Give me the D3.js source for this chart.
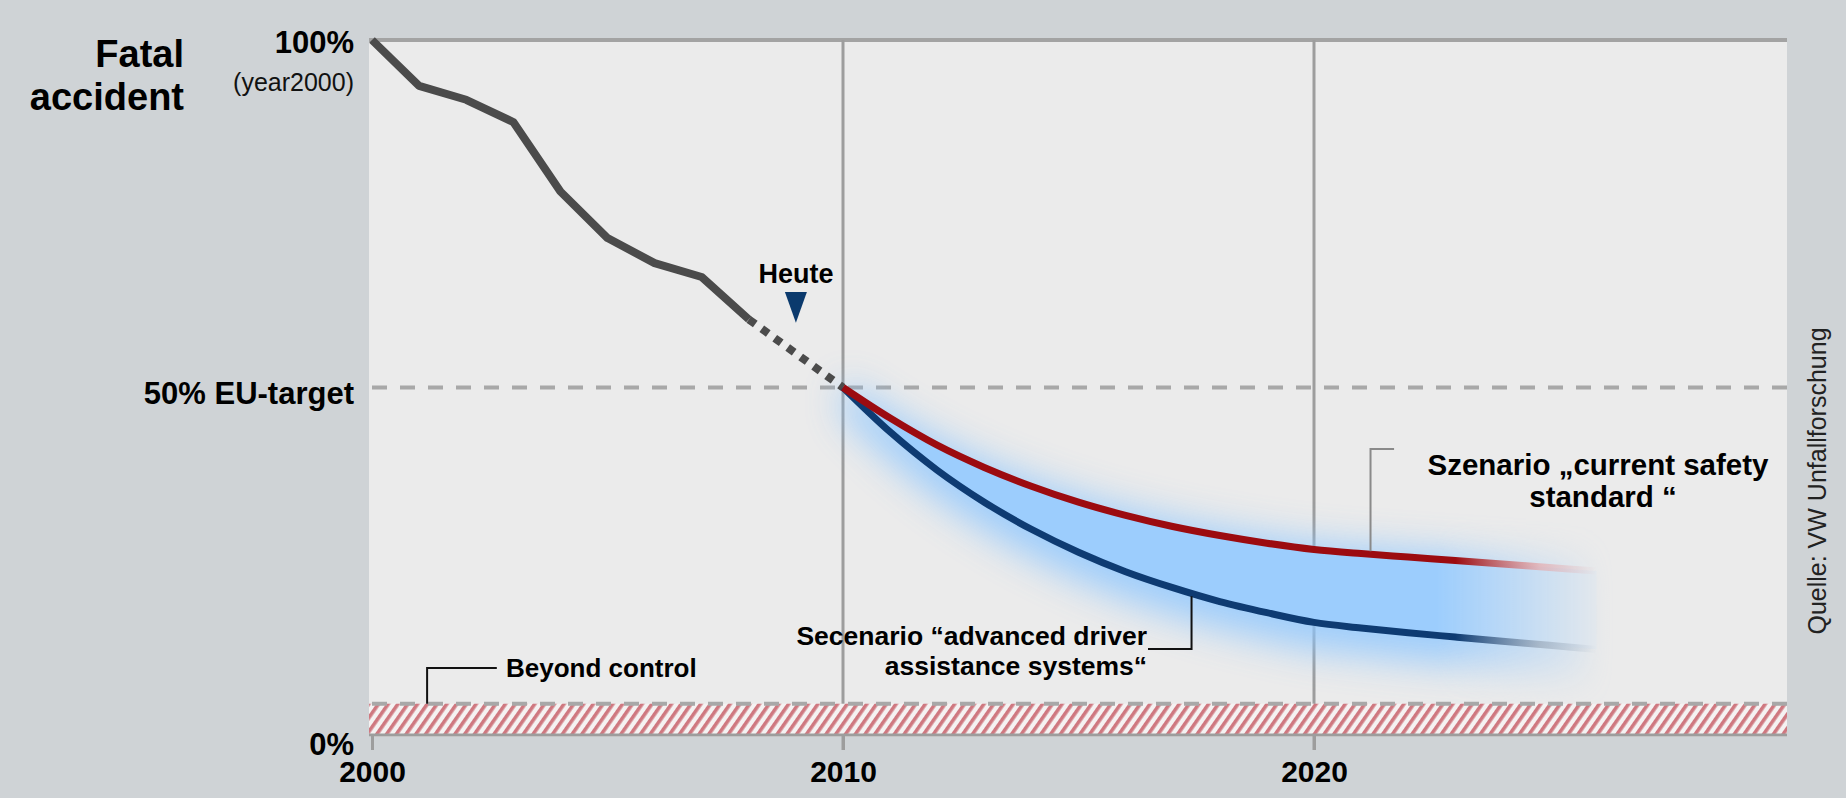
<!DOCTYPE html>
<html>
<head>
<meta charset="utf-8">
<script src="https://cdn.jsdelivr.net/npm/d3@7"></script>
<style>
    html, body { margin: 0; padding: 0; background: #cfd3d6; }
    svg { display: block; font-family: "Liberation Sans", Arial, Helvetica, sans-serif; }
</style>
</head>
<body>
<svg width="1846" height="798"></svg>
<script>
// fatal accidents, year 2000 = 100 %
let history_years = [2000, 2001, 2002, 2003, 2004, 2005, 2006, 2007, 2008]
let history_values = [100, 93.4, 91.4, 88.2, 78.2, 71.5, 67.9, 65.9, 59.8]

// dotted bit up to "today"
let bridge_years = [2008, 2010]
let bridge_values = [59.8, 50]

// the two scenarios
let scenario_years = [2010, 2011, 2012, 2013, 2014, 2015, 2016, 2017, 2018, 2019, 2020, 2021, 2022, 2023, 2024, 2025, 2026]
let current_safety = [50, 45.6, 41.7, 38.5, 35.8, 33.5, 31.6, 30.0, 28.7, 27.6, 26.7, 26.1, 25.6, 25.1, 24.6, 24.1, 23.6]
let advanced_assist = [50, 43.6, 38.1, 33.5, 29.6, 26.3, 23.5, 21.2, 19.2, 17.6, 16.2, 15.4, 14.7, 14.1, 13.5, 12.9, 12.3]

let x_ticks = [2000, 2010, 2020]
let y_ticks = [100, 50, 0]
let y_tick_labels = ['100%', '50% EU-target', '0%']

let eu_target = 50
let beyond_control = 4.5
let today_year = 2009
let today_level = 59.6

let svg = d3.select('svg')
let font = '"Liberation Sans", Arial, Helvetica, sans-serif'

let scale = {
    x: d3.scaleLinear().domain([2000, 2030]).range([372, 1785]),
    y: d3.scaleLinear().domain([0, 100]).range([735, 40])
}

let scenarios = scenario_years.map((year, i) => ({
    year: year,
    red: current_safety[i],
    blue: advanced_assist[i]
}))

let defs = svg.append('defs')

// soft edge of the blue band
defs.append('filter')
    .attr('id', 'glow')
    .attr('filterUnits', 'userSpaceOnUse')
    .attr('x', 650).attr('y', 250).attr('width', 1150).attr('height', 548)
    .append('feGaussianBlur')
    .attr('stdDeviation', 18)

// fade out to the right
let fade = defs.append('linearGradient')
    .attr('id', 'fade')
    .attr('gradientUnits', 'userSpaceOnUse')
    .attr('x1', scale.x(2022.6)).attr('x2', scale.x(2026.4))
    .attr('y1', 0).attr('y2', 0)
fade.append('stop').attr('offset', 0).attr('stop-color', '#fff')
fade.append('stop').attr('offset', 1).attr('stop-color', '#000')

defs.append('mask')
    .attr('id', 'fade-mask')
    .attr('maskUnits', 'userSpaceOnUse')
    .attr('x', 0).attr('y', 0).attr('width', 1846).attr('height', 798)
    .append('rect')
    .attr('width', 1846).attr('height', 798)
    .attr('fill', 'url(#fade)')

function lineFade(id, color, end) {
    let grad = defs.append('linearGradient')
        .attr('id', id)
        .attr('gradientUnits', 'userSpaceOnUse')
        .attr('x1', scale.x(2023)).attr('x2', scale.x(2026))
        .attr('y1', 0).attr('y2', 0)
    grad.append('stop').attr('offset', 0).attr('stop-color', color)
    grad.append('stop').attr('offset', 0.6).attr('stop-color', end).attr('stop-opacity', 0.7)
    grad.append('stop').attr('offset', 1).attr('stop-color', end).attr('stop-opacity', 0)
}
lineFade('red-fade', '#9c0b10', '#e6a9ab')
lineFade('blue-fade', '#0e3b72', '#9aa9ba')

// hatched "beyond control" strip
let hatch = defs.append('pattern')
    .attr('id', 'hatch')
    .attr('patternUnits', 'userSpaceOnUse')
    .attr('width', 8).attr('height', 8)
    .attr('patternTransform', 'rotate(35)')
hatch.append('rect').attr('width', 8).attr('height', 8).attr('fill', '#f5f2f2')
hatch.append('rect').attr('width', 3.6).attr('height', 8).attr('fill', '#cf7880')

// plot background
svg.append('rect')
    .attr('x', scale.x(2000) - 3)
    .attr('y', scale.y(100))
    .attr('width', scale.x(2030) - scale.x(2000) + 5)
    .attr('height', scale.y(0) - scale.y(100) + 2)
    .attr('fill', '#ebebeb')

// top line
svg.append('line')
    .attr('x1', scale.x(2000) - 3).attr('x2', scale.x(2030) + 2)
    .attr('y1', scale.y(100)).attr('y2', scale.y(100))
    .attr('stroke', '#a3a3a3')
    .attr('stroke-width', 4)

// vertical grid
svg.selectAll('.grid')
    .data(x_ticks.filter(d => d > 2000))
    .enter()
    .append('line')
    .attr('class', 'grid')
    .attr('x1', d => scale.x(d)).attr('x2', d => scale.x(d))
    .attr('y1', scale.y(100)).attr('y2', scale.y(0) + 15)
    .attr('stroke', '#9d9d9d')
    .attr('stroke-width', 3)

// beyond control strip
svg.append('rect')
    .attr('x', scale.x(2000) - 3)
    .attr('y', scale.y(beyond_control))
    .attr('width', scale.x(2030) - scale.x(2000) + 5)
    .attr('height', scale.y(0) - scale.y(beyond_control))
    .attr('fill', 'url(#hatch)')

svg.append('line')
    .attr('x1', scale.x(2000) - 3).attr('x2', scale.x(2030) + 2)
    .attr('y1', scale.y(0)).attr('y2', scale.y(0))
    .attr('stroke', '#9d9d9d')
    .attr('stroke-width', 3)

// dashed reference lines
svg.selectAll('.ref')
    .data([eu_target, beyond_control])
    .enter()
    .append('line')
    .attr('class', 'ref')
    .attr('x1', scale.x(2000)).attr('x2', scale.x(2030) + 2)
    .attr('y1', d => scale.y(d)).attr('y2', d => scale.y(d))
    .attr('stroke', '#a8a8a8')
    .attr('stroke-width', 4)
    .attr('stroke-dasharray', '15,13')

// blue band between the scenarios
let band = svg.append('g').attr('mask', 'url(#fade-mask)')

band.append('path')
    .datum(scenarios)
    .attr('d', d3.area()
        .x(d => scale.x(d.year))
        .y0(d => scale.y(d.blue - 4))
        .y1(d => scale.y(d.red + 1))
        .curve(d3.curveCatmullRom))
    .attr('fill', '#8cc6ff')
    .attr('opacity', 0.8)
    .attr('filter', 'url(#glow)')

band.append('path')
    .datum(scenarios)
    .attr('d', d3.area()
        .x(d => scale.x(d.year))
        .y0(d => scale.y(d.blue))
        .y1(d => scale.y(d.red))
        .curve(d3.curveCatmullRom))
    .attr('fill', '#9ccdfd')

// history line
let line = d3.line()
    .x(d => scale.x(d[0]))
    .y(d => scale.y(d[1]))

svg.append('path')
    .datum(d3.zip(bridge_years, bridge_values))
    .attr('d', line)
    .attr('fill', 'none')
    .attr('stroke', '#4b4b4b')
    .attr('stroke-width', 8)
    .attr('stroke-dasharray', '8,8')

svg.append('path')
    .datum(d3.zip(history_years, history_values))
    .attr('d', line)
    .attr('fill', 'none')
    .attr('stroke', '#4b4b4b')
    .attr('stroke-width', 8)
    .attr('stroke-linejoin', 'round')

// scenario lines
let curve = key => d3.line()
    .x(d => scale.x(d.year))
    .y(d => scale.y(d[key]))
    .curve(d3.curveCatmullRom)

svg.append('path')
    .datum(scenarios)
    .attr('d', curve('blue'))
    .attr('fill', 'none')
    .attr('stroke', 'url(#blue-fade)')
    .attr('stroke-width', 7)

svg.append('path')
    .datum(scenarios)
    .attr('d', curve('red'))
    .attr('fill', 'none')
    .attr('stroke', 'url(#red-fade)')
    .attr('stroke-width', 7)

// X axis
let axis_x = svg.append('g')
    .attr('transform', `translate(0,${scale.y(0)})`)
    .call(d3.axisBottom(scale.x)
        .tickValues(x_ticks)
        .tickFormat(d3.format('d'))
        .tickSize(15)
        .tickPadding(11))
axis_x.select('.domain').remove()
axis_x.attr('font-family', font).attr('font-size', 30).attr('font-weight', 'bold')
axis_x.selectAll('line').attr('stroke', '#9d9d9d').attr('stroke-width', 3)
axis_x.selectAll('text').attr('fill', '#000')

// Y axis
let axis_y = svg.append('g')
    .attr('transform', `translate(${scale.x(2000)},0)`)
    .call(d3.axisLeft(scale.y)
        .tickValues(y_ticks)
        .tickFormat((d, i) => y_tick_labels[i])
        .tickSize(0)
        .tickPadding(scale.x(2000) - 354))
axis_y.select('.domain').remove()
axis_y.attr('font-family', font).attr('font-size', 31).attr('font-weight', 'bold')
axis_y.selectAll('text')
    .attr('fill', '#000')
    .attr('dy', d => d == 100 ? 12 : d == 50 ? 16 : 19)

svg.append('text')
    .attr('x', 354)
    .attr('y', 91)
    .attr('text-anchor', 'end')
    .attr('font-size', 25)
    .attr('fill', '#111')
    .text('(year2000)')

// Y label
svg.append('text')
    .attr('text-anchor', 'end')
    .attr('font-size', 38)
    .attr('font-weight', 'bold')
    .selectAll('tspan')
    .data(['Fatal', 'accident'])
    .enter()
    .append('tspan')
    .attr('x', 184)
    .attr('y', (d, i) => 67 + i * 43)
    .text(d => d)

// Heute marker
let today = { x: scale.x(today_year), y: scale.y(today_level) }
svg.append('text')
    .attr('x', today.x)
    .attr('y', 283)
    .attr('text-anchor', 'middle')
    .attr('font-size', 27)
    .attr('font-weight', 'bold')
    .text('Heute')

svg.append('path')
    .attr('d', `M${today.x - 11},292 L${today.x + 11},292 L${today.x},${today.y + 2}Z`)
    .attr('fill', '#0b3a6d')

// leaders
let leader = d3.line()
let value_at = (key, yr) => {
    let i = d3.bisectLeft(scenario_years, yr)
    let t = (yr - scenario_years[i - 1]) / (scenario_years[i] - scenario_years[i - 1])
    let v = key == 'red' ? current_safety : advanced_assist
    return v[i - 1] + t * (v[i] - v[i - 1])
}

svg.append('path')
    .attr('d', leader([
        [scale.x(2001.17), scale.y(beyond_control)],
        [scale.x(2001.17), 668],
        [scale.x(2002.65), 668]
    ]))
    .attr('fill', 'none')
    .attr('stroke', '#111')
    .attr('stroke-width', 2)

svg.append('path')
    .attr('d', leader([
        [1148, 649],
        [scale.x(2017.4), 649],
        [scale.x(2017.4), scale.y(value_at('blue', 2017.4)) + 3]
    ]))
    .attr('fill', 'none')
    .attr('stroke', '#111')
    .attr('stroke-width', 2)

svg.append('path')
    .attr('d', leader([
        [scale.x(2021.7), 449],
        [scale.x(2021.2), 449],
        [scale.x(2021.2), scale.y(value_at('red', 2021.2)) - 3]
    ]))
    .attr('fill', 'none')
    .attr('stroke', '#8a8a8a')
    .attr('stroke-width', 2)

// annotation texts
svg.append('text')
    .attr('x', 506)
    .attr('y', 677)
    .attr('font-size', 26)
    .attr('font-weight', 'bold')
    .text('Beyond control')

svg.append('text')
    .attr('text-anchor', 'end')
    .attr('font-size', 26.5)
    .attr('font-weight', 'bold')
    .selectAll('tspan')
    .data(['Secenario “advanced driver', 'assistance systems“'])
    .enter()
    .append('tspan')
    .attr('x', 1147)
    .attr('y', (d, i) => 645 + i * 30)
    .text(d => d)

svg.append('text')
    .attr('text-anchor', 'middle')
    .attr('font-size', 29.5)
    .attr('font-weight', 'bold')
    .selectAll('tspan')
    .data(['Szenario „current safety', 'standard “'])
    .enter()
    .append('tspan')
    .attr('x', (d, i) => i == 0 ? 1598 : 1603)
    .attr('y', (d, i) => 475 + i * 32)
    .text(d => d)

// source
svg.append('text')
    .attr('transform', 'translate(1826,481) rotate(-90)')
    .attr('text-anchor', 'middle')
    .attr('font-size', 25)
    .attr('fill', '#222')
    .text('Quelle: VW Unfallforschung')
</script>
</body>
</html>
